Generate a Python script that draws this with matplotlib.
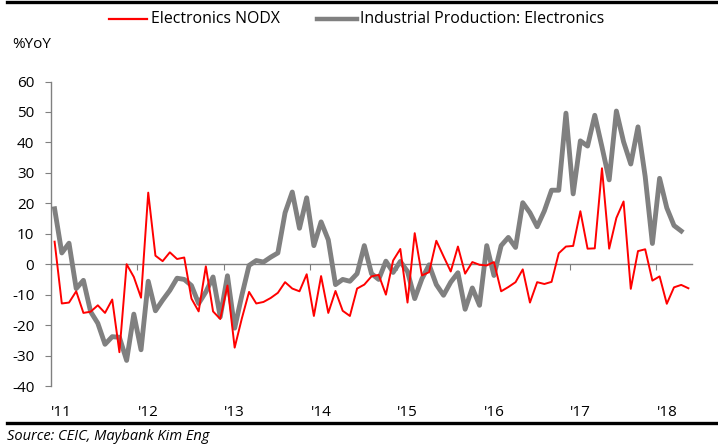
import numpy as np
import matplotlib
matplotlib.use("Agg")
import matplotlib.pyplot as plt
from matplotlib.lines import Line2D
from matplotlib.transforms import blended_transform_factory

# ---- data (monthly, Jan 2011 onwards, %YoY) ----
nodx = [7.4, -12.9, -12.6, -8.9, -16, -15.6, -13.5, -16, -11.6, -28.9, 0, -4.2,
        -11, 23.5, 2.8, 1, 3.9, 1.7, 2.2, -11.3, -15.5, -0.7, -15.5, -18,
        -7, -27.4, -17.8, -9.1, -12.9, -12.4, -11.1, -9.4, -5.9, -8, -8.9, -3.3,
        -17, -3.9, -16, -8.8, -15.3, -17, -8, -6.7, -4, -3.5, -10, 1.2,
        5, -12.6, 10.2, -3.7, -2.6, 7.7, 2.6, -2.4, 5.8, -3.1, 0.7, -0.2,
        -0.4, 0.7, -8.9, -7.5, -5.9, -1.7, -12.6, -5.9, -6.5, -5.8, 3.6, 5.8,
        6, 17.4, 5.1, 5.2, 31.5, 5.1, 15.2, 20.6, -8.1, 4.3, 4.9, -5.4,
        -4, -13, -7.6, -6.8, -7.9]
ip_elec = [18.2, 3.7, 6.9, -8, -5.3, -15.6, -19.4, -26.3, -23.8, -24, -31.6, -16.4,
           -28.1, -5.6, -15.3, -11.8, -8.6, -4.6, -5, -7, -12.9, -9.1, -4.2, -17.3,
           -3.8, -21, -10.2, -0.4, 1.2, 0.7, 2.3, 3.7, 16.9, 23.7, 11.8, 21.8,
           6.1, 13.9, 8, -6.7, -5, -5.6, -3.1, 6.1, -3.1, -5, 1, -2.7,
           0.9, -2.4, -11.3, -4.8, -0.2, -6.7, -10.2, -5.9, -2.8, -14.8, -7.8, -13.5,
           6.1, -3.7, 6.1, 8.8, 5.5, 20.2, 16.9, 12.3, 17.5, 24.3, 24.3, 49.6,
           23.1, 40.5, 38.8, 48.9, 38.5, 27.7, 50.3, 40.2, 32.9, 45.1, 28.8, 6.8,
           28.2, 18.5, 12.7, 10.9]
year_labels = ["'11", "'12", "'13", "'14", "'15", "'16", "'17", "'18"]
yticks = [-40, -30, -20, -10, 0, 10, 20, 30, 40, 50, 60]
series_names = ["Electronics NODX", "Industrial Production: Electronics"]

W, H = 718, 445
fig = plt.figure(figsize=(W / 100, H / 100), dpi=100)
ax = fig.add_axes([51 / W, 1 - 386 / H, (692 - 51) / W, (386 - 81.5) / H])

tick_font = dict(family=["Open Sans", "DejaVu Sans"], size=11)
leg_font = dict(family=["Liberation Sans Narrow", "Open Sans", "DejaVu Sans"], size=11.4)

x_red = np.arange(len(nodx)) + 0.5
x_gray = np.arange(len(ip_elec)) + 0.5
ax.plot(x_gray, ip_elec, color="#808080", lw=3.5, solid_joinstyle="round", zorder=2)
ax.plot(x_red, nodx, color="#ff0000", lw=1.4, zorder=3)

ax.set_xlim(0, 89)
ax.set_ylim(-40, 60)

for s in ["top", "right"]:
    ax.spines[s].set_visible(False)
ax.spines["left"].set_color("#808080")
ax.spines["left"].set_linewidth(1.0)
ax.spines["bottom"].set_position(("data", 0))
ax.spines["bottom"].set_color("#808080")
ax.spines["bottom"].set_linewidth(1.0)
ax.spines["bottom"].set_zorder(1)

ax.set_yticks(yticks)
ax.set_yticklabels([str(v) for v in yticks], **tick_font)
ax.tick_params(axis="y", direction="out", length=4, color="#808080", pad=8)
ax.set_xticks([12 * k for k in range(8)])
ax.set_xticklabels([])
ax.tick_params(axis="x", direction="out", length=4, color="#808080")

trans = blended_transform_factory(ax.transData, fig.transFigure)
for k, lab in enumerate(year_labels):
    ax.text(12 * k + 1.5, 1 - 412 / H, lab, transform=trans, ha="center", va="center",
            **tick_font)

fig.text(12 / W, 1 - 44 / H, "%YoY", ha="left", va="center", **tick_font)

# legend
fig.add_artist(Line2D([109 / W, 147 / W], [1 - 19 / H] * 2, color="#ff0000", lw=1.6,
                      transform=fig.transFigure))
fig.text(151 / W, 1 - 19 / H, series_names[0], ha="left", va="center", **leg_font)
fig.add_artist(Line2D([317 / W, 357 / W], [1 - 19 / H] * 2, color="#808080", lw=3.2,
                      transform=fig.transFigure))
fig.text(360 / W, 1 - 19 / H, series_names[1], ha="left", va="center", **leg_font)

# frame rules
fig.add_artist(Line2D([7 / W, 1], [1 - 1.5 / H] * 2, color="black", lw=2.4,
                      transform=fig.transFigure))
fig.add_artist(Line2D([7 / W, 1], [1 - 423 / H] * 2, color="black", lw=2.4,
                      transform=fig.transFigure))
fig.text(7 / W, 1 - 436 / H, "Source: CEIC, Maybank Kim Eng", ha="left", va="center",
         style="italic", family=["Open Sans", "DejaVu Sans"], size=10.5)

fig.savefig("out.png", dpi=100)
